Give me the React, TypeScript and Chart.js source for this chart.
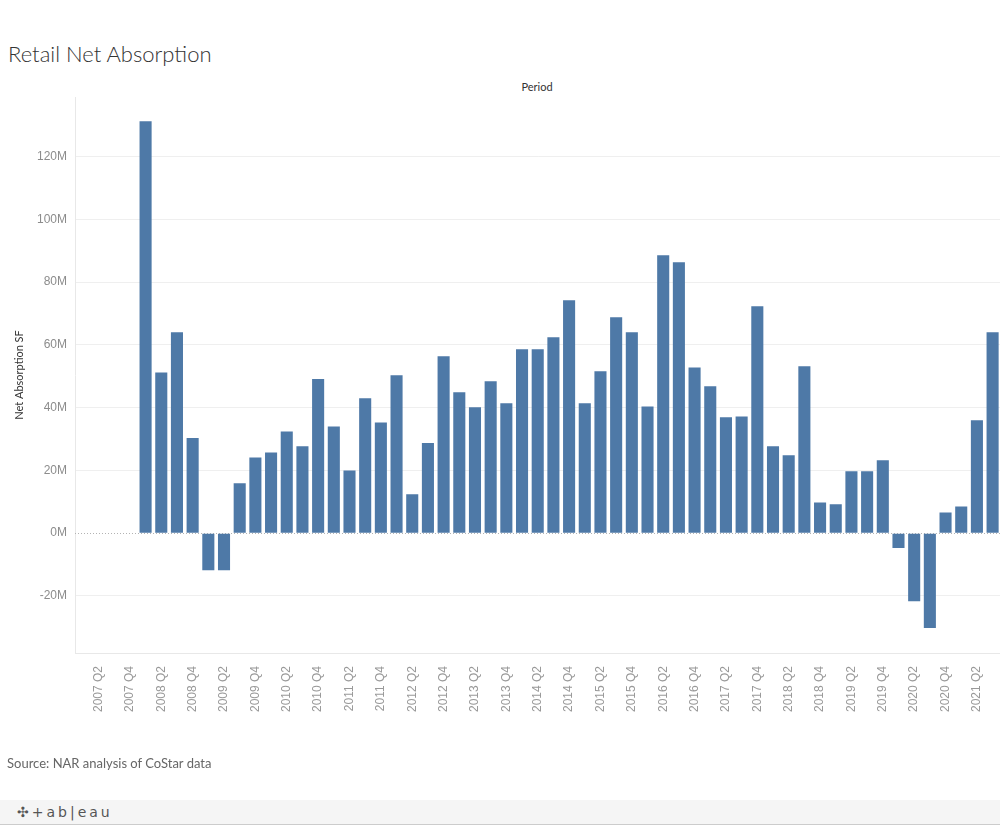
import React, { useEffect, useRef } from "react";
import { Chart, registerables } from "chart.js";

Chart.register(...registerables);

const years = [2007, 2008, 2009, 2010, 2011, 2012, 2013, 2014, 2015, 2016, 2017, 2018, 2019, 2020, 2021];
const quarters = ["Q1", "Q2", "Q3", "Q4"];
const lastQuarterCount = 3; // 2021 ends at Q3

const categories: string[] = [];
years.forEach((y, yi) => {
  const n = yi === years.length - 1 ? lastQuarterCount : 4;
  for (let q = 0; q < n; q++) categories.push(`${y} ${quarters[q]}`);
});

// Net absorption, millions of SF (2007 has no data)
const absorption2007 = [null, null, null, null];
const absorption2008 = [131.3, 51.2, 64.0, 30.3];
const absorption2009 = [-11.8, -11.8, 15.9, 24.1];
const absorption2010 = [25.7, 32.4, 27.7, 49.1];
const absorption2011 = [34.0, 20.0, 43.0, 35.3];
const absorption2012 = [50.3, 12.4, 28.7, 56.4];
const absorption2013 = [44.9, 40.1, 48.4, 41.4];
const absorption2014 = [58.6, 58.6, 62.4, 74.2];
const absorption2015 = [41.4, 51.6, 68.8, 64.0];
const absorption2016 = [40.4, 88.6, 86.3, 52.8];
const absorption2017 = [46.8, 36.9, 37.2, 72.3];
const absorption2018 = [27.7, 24.8, 53.2, 9.8];
const absorption2019 = [9.2, 19.7, 19.7, 23.2];
const absorption2020 = [-4.7, -21.7, -30.2, 6.6];
const absorption2021 = [8.5, 36.0, 64.0];

const netAbsorption: (number | null)[] = [
  ...absorption2007, ...absorption2008, ...absorption2009, ...absorption2010,
  ...absorption2011, ...absorption2012, ...absorption2013, ...absorption2014,
  ...absorption2015, ...absorption2016, ...absorption2017, ...absorption2018,
  ...absorption2019, ...absorption2020, ...absorption2021,
];

const yTickValues = [-20, 0, 20, 40, 60, 80, 100, 120];
const yMin = -38.2;
const yMax = 139;

const zeroLinePlugin = {
  id: "zeroLine",
  beforeDatasetsDraw(chart: any) {
    const { ctx, chartArea, scales } = chart;
    const y = Math.round(scales.y.getPixelForValue(0)) + 0.5;
    ctx.save();
    ctx.strokeStyle = "#b3b3b3";
    ctx.lineWidth = 1;
    ctx.setLineDash([1, 2]);
    ctx.beginPath();
    ctx.moveTo(chartArea.left, y);
    ctx.lineTo(chartArea.right, y);
    ctx.stroke();
    ctx.restore();
  },
};

export default function App() {
  const canvasRef = useRef<HTMLCanvasElement | null>(null);

  useEffect(() => {
    if (!canvasRef.current) return;
    const chart = new Chart(canvasRef.current, {
      type: "bar",
      data: {
        labels: categories,
        datasets: [
          {
            label: "Net Absorption SF",
            data: netAbsorption,
            backgroundColor: "#4e79a7",
            barPercentage: 0.77,
            categoryPercentage: 1.0,
          },
        ],
      },
      options: {
        responsive: false,
        animation: false,
        layout: { padding: { top: 97, bottom: 114, left: 0, right: 0 } },
        plugins: {
          legend: { display: false },
          tooltip: { enabled: false },
        },
        scales: {
          x: {
            type: "category",
            grid: { display: false },
            border: { display: true, color: "#e8e8e8" },
            ticks: {
              autoSkip: false,
              minRotation: 90,
              maxRotation: 90,
              padding: 5,
              color: "#999999",
              font: { family: "'Liberation Sans', Arial, sans-serif", size: 12 },
              callback: (_v: any, i: number) => (i % 2 === 1 ? categories[i] : ""),
            },
            afterFit: (s: any) => {
              s.height = 60;
            },
          },
          y: {
            min: yMin,
            max: yMax,
            afterBuildTicks: (s: any) => {
              s.ticks = yTickValues.map((v) => ({ value: v }));
            },
            grid: {
              drawTicks: false,
              color: (ctx: any) => (ctx.tick && ctx.tick.value === 0 ? "rgba(0,0,0,0)" : "#efefef"),
            },
            border: { display: true, color: "#e8e8e8" },
            ticks: {
              padding: 8,
              color: "#8c8c8c",
              font: { family: "'Liberation Sans', Arial, sans-serif", size: 12 },
              callback: (v: any) => `${v}M`,
            },
            title: {
              display: true,
              text: "Net Absorption SF",
              color: "#333333",
              font: { family: "Lato, 'Open Sans', sans-serif", size: 11 },
              padding: { top: 13, bottom: 0 },
            },
            afterFit: (s: any) => {
              s.width = 75;
            },
          },
        },
      },
      plugins: [zeroLinePlugin],
    });
    return () => chart.destroy();
  }, []);

  return (
    <div
      style={{
        position: "absolute",
        left: 0,
        top: 0,
        width: 1000,
        height: 827,
        background: "#ffffff",
        overflow: "hidden",
        fontFamily: "Lato, 'Open Sans', sans-serif",
      }}
    >
      <div
        style={{
          position: "absolute",
          left: 8,
          top: 40,
          fontSize: 22,
          fontWeight: 300,
          lineHeight: "28px",
          color: "#333333",
          whiteSpace: "nowrap",
        }}
      >
        Retail Net Absorption
      </div>
      <div
        style={{
          position: "absolute",
          left: 487,
          width: 100,
          top: 80,
          fontSize: 11,
          lineHeight: "14px",
          textAlign: "center",
          color: "#333333",
        }}
      >
        Period
      </div>
      <canvas
        ref={canvasRef}
        width={1012}
        height={827}
        style={{ position: "absolute", left: 0, top: 0, width: 1012, height: 827 }}
      />
      <div
        style={{
          position: "absolute",
          left: 7,
          top: 756,
          fontSize: 13,
          lineHeight: "15px",
          color: "#666666",
          whiteSpace: "nowrap",
        }}
      >
        Source: NAR analysis of CoStar data
      </div>
      <div
        style={{
          position: "absolute",
          left: 0,
          top: 800,
          width: 1000,
          height: 24,
          background: "#f5f5f5",
          borderBottom: "1px solid #cccccc",
        }}
      >
        <div
          style={{
            position: "absolute",
            left: 17,
            top: 4,
            fontSize: 14,
            lineHeight: "16px",
            color: "#555555",
            letterSpacing: 3,
            whiteSpace: "nowrap",
            fontFamily: "'DejaVu Sans', sans-serif",
          }}
        >
          ✣+ab|eau
        </div>
      </div>
    </div>
  );
}
